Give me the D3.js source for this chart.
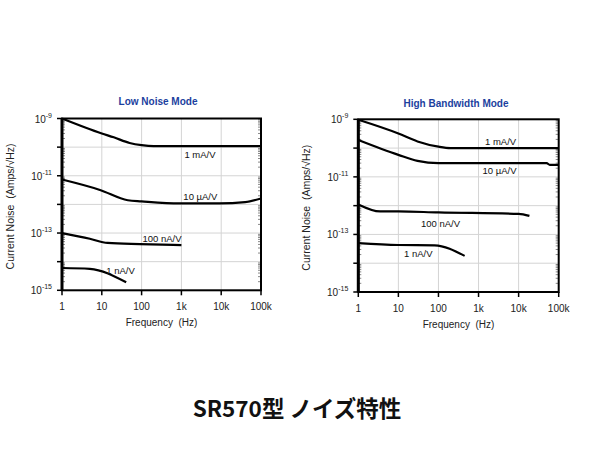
<!DOCTYPE html>
<html>
<head>
<meta charset="utf-8">
<script src="https://cdn.jsdelivr.net/npm/d3@7"></script>
<style>
  body { margin: 0; background: #fff; }
  text { font-family: "Liberation Sans", Arial, sans-serif; }
</style>
</head>
<body>
<svg id="chart" width="600" height="450"></svg>
<script>
/* axis data */
var freqTicks = [1, 10, 100, 1e3, 1e4, 1e5];
var freqLabels = ["1", "10", "100", "1k", "10k", "100k"];
var noiseDecades = [1e-9, 1e-10, 1e-11, 1e-12, 1e-13, 1e-14, 1e-15];
var noiseLabelExp = [-9, -11, -13, -15];

/* Low Noise Mode curves: [freq Hz, A/rtHz] */
var low1mA = [[1, 1.0e-9], [10, 3.0e-10], [20, 2.2e-10], [50, 1.4e-10], [100, 1.17e-10], [200, 1.08e-10], [1e5, 1.08e-10]];
var low10uA = [[1, 7.4e-12], [9, 3.2e-12], [45, 1.4e-12], [100, 1.28e-12], [900, 1.08e-12], [9000, 1.08e-12], [40000, 1.2e-12], [1e5, 1.6e-12]];
var low100nA = [[1, 1.0e-13], [5, 6.3e-14], [14, 4.5e-14], [90, 4.1e-14], [1000, 3.8e-14]];
var low1nA = [[1, 6.0e-15], [5, 5.6e-15], [41, 1.9e-15]];

/* High Bandwidth Mode curves */
var high1mA = [[1, 9.6e-10], [10, 3.2e-10], [30, 1.7e-10], [100, 1.12e-10], [200, 1.0e-10], [1e5, 1.0e-10]];
var high10uA = [[1, 1.9e-10], [10, 5.8e-11], [30, 3.6e-11], [100, 3.0e-11], [50000, 3.0e-11], [60000, 2.6e-11], [1e5, 2.6e-11]];
var high100nA = [[1, 1.1e-12], [3.5, 6.3e-13], [10, 6.3e-13], [100, 5.8e-13], [10000, 5.2e-13], [18600, 4.4e-13]];
var high1nA = [[1, 5.0e-14], [10, 4.3e-14], [80, 4.2e-14], [450, 1.8e-14]];

var lowLabels = ["1 mA/V", "10 \u00b5A/V", "100 nA/V", "1 nA/V"];
var highLabels = ["1 mA/V", "10 \u00b5A/V", "100 nA/V", "1 nA/V"];
/* label anchors: [freq, value] of text baseline start */
var lowLabelAt = [[1190, 4.1e-11], [1120, 1.44e-12], [105, 4.9e-14], [13, 3.6e-15]];
var highLabelAt = [[1450, 1.3e-10], [1260, 1.23e-11], [36.6, 1.86e-13], [13.8, 1.7e-14]];

var svg = d3.select("#chart");
svg.append("rect").attr("width", 600).attr("height", 450).attr("fill", "#fff");

function drawPanel(opt) {
  var x = d3.scaleLog().domain([1, 1e5]).range([opt.x0, opt.x1]);
  var y = d3.scaleLog().domain([1e-9, 1e-15]).range([opt.y0, opt.y1]);
  var g = svg.append("g");

  /* grid */
  g.selectAll(".vgrid").data(freqTicks).enter().append("line")
    .attr("x1", function(d) { return x(d); }).attr("x2", function(d) { return x(d); })
    .attr("y1", opt.y0).attr("y2", opt.y1)
    .attr("stroke", "#d4d4d4").attr("stroke-width", 1);
  g.selectAll(".hgrid").data(noiseDecades).enter().append("line")
    .attr("x1", opt.x0).attr("x2", opt.x1)
    .attr("y1", function(d) { return y(d); }).attr("y2", function(d) { return y(d); })
    .attr("stroke", "#d4d4d4").attr("stroke-width", 1);

  /* minor ticks inside left & right edges */
  var minors = [];
  for (var e = -15; e < -9; e++)
    for (var m = 2; m <= 9; m++) minors.push(m * Math.pow(10, e));
  g.selectAll(".minL").data(minors).enter().append("line")
    .attr("x1", opt.x0).attr("x2", opt.x0 + 3)
    .attr("y1", function(d) { return y(d); }).attr("y2", function(d) { return y(d); })
    .attr("stroke", "#555").attr("stroke-width", 0.7);
  g.selectAll(".minR").data(minors).enter().append("line")
    .attr("x1", opt.x1).attr("x2", opt.x1 - 3)
    .attr("y1", function(d) { return y(d); }).attr("y2", function(d) { return y(d); })
    .attr("stroke", "#555").attr("stroke-width", 0.7);

  /* major ticks outward */
  g.selectAll(".ytick").data(noiseDecades).enter().append("line")
    .attr("x1", opt.x0 - 5).attr("x2", opt.x0)
    .attr("y1", function(d) { return y(d); }).attr("y2", function(d) { return y(d); })
    .attr("stroke", "#000").attr("stroke-width", 1.5);
  g.selectAll(".xtick").data(freqTicks).enter().append("line")
    .attr("x1", function(d) { return x(d); }).attr("x2", function(d) { return x(d); })
    .attr("y1", opt.y1).attr("y2", opt.y1 + 5)
    .attr("stroke", "#000").attr("stroke-width", 1.5);

  /* frame */
  g.append("rect")
    .attr("x", opt.x0).attr("y", opt.y0)
    .attr("width", opt.x1 - opt.x0).attr("height", opt.y1 - opt.y0)
    .attr("fill", "none").attr("stroke", "#000").attr("stroke-width", 2);
  g.append("line").attr("x1", opt.x0).attr("x2", opt.x0)
    .attr("y1", opt.y0).attr("y2", opt.y1)
    .attr("stroke", "#000").attr("stroke-width", 3);

  /* tick labels */
  g.selectAll(".xl").data(freqTicks).enter().append("text")
    .attr("x", function(d) { return x(d); }).attr("y", opt.y1 + 20)
    .attr("text-anchor", "middle").attr("font-size", 10).attr("fill", "#222")
    .text(function(d, i) { return freqLabels[i]; });
  var yl = g.selectAll(".yl").data(noiseLabelExp).enter().append("text")
    .attr("x", opt.x0 - 10).attr("y", function(d) { return y(Math.pow(10, d)) + 4; })
    .attr("text-anchor", "end").attr("font-size", 10).attr("fill", "#222");
  yl.append("tspan").text("10");
  yl.append("tspan").attr("font-size", 7).attr("dy", -5).text(function(d) { return "-" + Math.abs(d); });

  /* axis titles */
  g.append("text")
    .attr("x", (opt.x0 + opt.x1) / 2).attr("y", opt.y1 + 36)
    .attr("text-anchor", "middle").attr("font-size", 10).attr("fill", "#222")
    .attr("xml:space", "preserve")
    .text("Frequency  (Hz)");
  g.append("text")
    .attr("transform", "translate(" + (opt.x0 - 48) + "," + ((opt.y0 + opt.y1) / 2 + 2) + ") rotate(-90)")
    .attr("text-anchor", "middle").attr("font-size", 10.5).attr("fill", "#222")
    .attr("xml:space", "preserve")
    .text("Current Noise  (Amps/\u221aHz)");

  /* title */
  g.append("text")
    .attr("x", opt.titleX).attr("y", opt.titleY)
    .attr("text-anchor", "middle").attr("font-size", 10).attr("font-weight", "bold")
    .attr("fill", "#1c3f9e")
    .text(opt.title);

  /* curves */
  var line = d3.line()
    .x(function(d) { return x(d[0]); })
    .y(function(d) { return y(d[1]); })
    .curve(d3.curveMonotoneX);
  g.selectAll(".curve").data(opt.series).enter().append("path")
    .attr("d", line).attr("fill", "none")
    .attr("stroke", "#000").attr("stroke-width", 2.2)
    .attr("stroke-linejoin", "round");

  /* curve labels */
  opt.labelPos.forEach(function(p, i) {
    g.append("text")
      .attr("x", x(p[0])).attr("y", y(p[1]))
      .attr("font-size", 9.5).attr("fill", "#111")
      .text(opt.labels[i]);
  });
}

drawPanel({
  x0: 62, x1: 261, y0: 118.5, y1: 290.3,
  title: "Low Noise Mode", titleX: 158, titleY: 105,
  series: [low1mA, low10uA, low100nA, low1nA],
  labels: lowLabels,
  labelPos: lowLabelAt
});

drawPanel({
  x0: 358.3, x1: 558.7, y0: 119.3, y1: 292,
  title: "High Bandwidth Mode", titleX: 456, titleY: 107,
  series: [high1mA, high10uA, high100nA, high1nA],
  labels: highLabels,
  labelPos: highLabelAt
});

svg.append("text")
  .attr("x", 297).attr("y", 417)
  .attr("text-anchor", "middle").attr("font-size", 22.5).attr("font-weight", "bold")
  .attr("fill", "#111")
  .style("font-family", "'Noto Sans CJK JP', 'Noto Sans', sans-serif")
  .text("SR570型 ノイズ特性");
</script>
</body>
</html>
